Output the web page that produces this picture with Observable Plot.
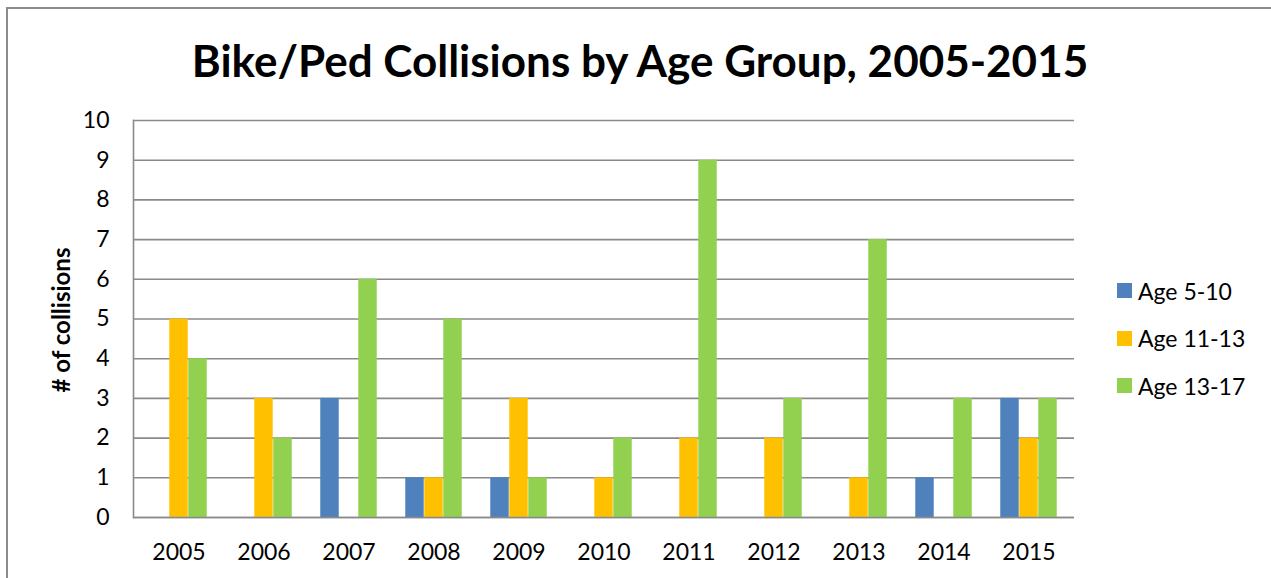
<!DOCTYPE html>
<html>
<head>
<meta charset="utf-8">
<script src="https://cdn.jsdelivr.net/npm/d3@7"></script>
<script src="https://cdn.jsdelivr.net/npm/@observablehq/plot@0.6"></script>
<style>
  body { margin: 0; background: #fff; font-family: Lato, "Open Sans", sans-serif; }
  #wrap { position: relative; width: 1271px; height: 578px; overflow: hidden; background: #fff; }
  #border { position: absolute; left: 6px; top: 7px; width: 1400px; height: 800px; border: 2px solid #8c8c8c; box-sizing: border-box; }
  #title { position: absolute; left: 0; width: 1280px; top: 38px; text-align: center; font-weight: 700; font-size: 44px; color: #000; line-height: 1; }
  #chart { position: absolute; left: 0; top: 100px; }
  #ylabel { position: absolute; left: 60px; top: 320px; transform: translate(-50%, -50%) rotate(-90deg); font-weight: 700; font-size: 24px; white-space: nowrap; color: #000; }
  #legend { position: absolute; left: 1117px; top: 267px; font-size: 23px; color: #000; }
  .item { display: flex; align-items: center; height: 47.5px; }
  .sw { width: 15px; height: 15px; margin-right: 6px; }
</style>
</head>
<body>
<div id="wrap">
  <div id="border"></div>
  <div id="title">Bike/Ped Collisions by Age Group, 2005-2015</div>
  <div id="ylabel"># of collisions</div>
  <div id="chart"></div>
  <div id="legend"></div>
</div>
<script>
// Collision counts per year for each age group
const years = ["2005", "2006", "2007", "2008", "2009", "2010", "2011", "2012", "2013", "2014", "2015"];
const age5to10 = [0, 0, 3, 1, 1, 0, 0, 0, 0, 1, 3];
const age11to13 = [5, 3, 0, 1, 3, 1, 2, 2, 1, 0, 2];
const age13to17 = [4, 2, 6, 5, 1, 2, 9, 3, 7, 3, 3];
const seriesNames = ["Age 5-10", "Age 11-13", "Age 13-17"];
const seriesColors = ["#4F81BD", "#FFC000", "#92D050"];
const yTicks = [0, 1, 2, 3, 4, 5, 6, 7, 8, 9, 10];

const seriesValues = [age5to10, age11to13, age13to17];
const rows = seriesValues.map(vals => years.map((year, i) => ({year, value: vals[i]})).filter(d => d.value > 0));

const width = 1100, height = 478;
const marginLeft = 133, marginRight = 26, marginTop = 20, marginBottom = 61;
const band = (width - marginLeft - marginRight) / years.length;
const barW = band * 2 / 9;           // three bars take 2/3 of each year band
const inset = (band - barW) / 2;

const chart = Plot.plot({
  width, height, marginLeft, marginRight, marginTop, marginBottom,
  style: {fontFamily: "Lato, 'Open Sans', sans-serif", fontSize: "23px", color: "#000", background: "transparent"},
  x: {domain: years, padding: 0, label: null, tickSize: 0, tickPadding: 26},
  y: {domain: [0, 10], ticks: yTicks, label: null, tickSize: 0, tickPadding: 24},
  marks: [
    Plot.gridY(yTicks, {stroke: "#8a8a8a", strokeOpacity: 1, strokeWidth: 1.6}),
    Plot.frame({anchor: "left", stroke: "#8a8a8a", strokeWidth: 1.6}),
    ...rows.map((data, k) => Plot.barY(data, {
      x: "year", y: "value", fill: seriesColors[k],
      insetLeft: inset, insetRight: inset, dx: (k - 1) * barW
    })),
    Plot.ruleY([0], {stroke: "#8a8a8a", strokeWidth: 1.6})
  ]
});
document.getElementById("chart").appendChild(chart);

// Legend
const legend = document.getElementById("legend");
seriesNames.forEach((name, k) => {
  const item = document.createElement("div");
  item.className = "item";
  item.innerHTML = `<span class="sw" style="background:${seriesColors[k]}"></span><span>${name}</span>`;
  legend.appendChild(item);
});
</script>
</body>
</html>
